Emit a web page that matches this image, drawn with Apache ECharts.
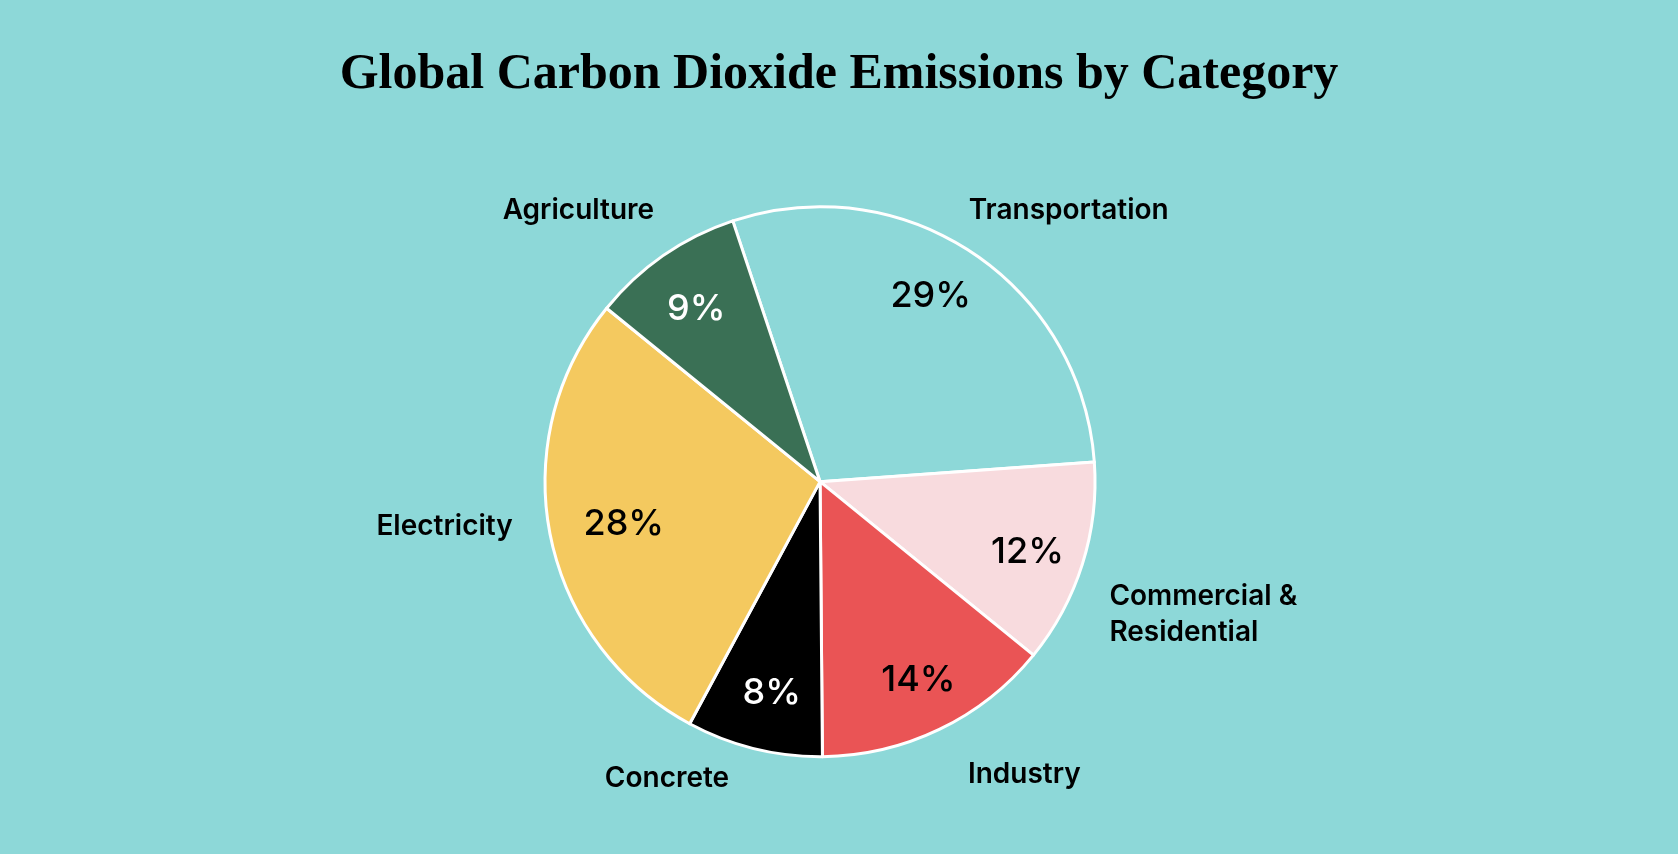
<!DOCTYPE html>
<html>
<head>
<meta charset="utf-8">
<script src="https://cdn.jsdelivr.net/npm/echarts@6/dist/echarts.min.js"></script>
<style>
html,body{margin:0;padding:0;background:#8dd8d8;}
#chart{width:1678px;height:854px;}
</style>
</head>
<body>
<div id="chart"></div>
<script>
const titleText = 'Global Carbon Dioxide Emissions by Category';
const categories = ['Transportation', 'Commercial &\nResidential', 'Industry', 'Concrete', 'Electricity', 'Agriculture'];
const values = [29, 12, 14, 8, 28, 9];
const colors = ['#8dd8d8', '#f8dbde', '#ea5455', '#000000', '#f4c95f', '#3a7055'];
const pctColors = ['#000000', '#000000', '#000000', '#ffffff', '#000000', '#ffffff'];
// label nudges (styling only)
const nameOffsets = [[-20, -26], [3, 44], [15, 27], [-15, 11], [-13, -13], [7, -29]];
const pctOffsets = [[-10, -5], [0, 5], [4, 3], [4, 0], [17, 0], [0, 6]];

const chart = echarts.init(document.getElementById('chart'));
const center = ['48.87%', '56.4%'];
const R = 275;

const mainData = categories.map((c, i) => ({
  name: c, value: values[i],
  itemStyle: { color: colors[i] },
  label: { offset: nameOffsets[i] }
}));
const ringData = categories.map((c, i) => ({
  name: c, value: values[i],
  label: { color: pctColors[i], offset: pctOffsets[i] }
}));

chart.setOption({
  backgroundColor: '#8dd8d8',
  title: {
    text: titleText, left: 'center', top: 45,
    textStyle: { fontFamily: 'Liberation Serif', fontWeight: 'bold', fontSize: 50, color: '#000' }
  },
  series: [
    {
      type: 'pie', center, radius: [0, R], startAngle: 108.5, clockwise: true,
      animation: false, silent: true,
      itemStyle: { borderColor: '#ffffff', borderWidth: 3 },
      labelLayout: { hideOverlap: false },
      label: {
        show: true, position: 'outside', formatter: '{b}',
        fontFamily: 'Inter', fontWeight: 600, fontSize: 28, color: '#000', lineHeight: 36
      },
      labelLine: { show: false, length: 20, length2: 0 },
      data: mainData
    },
    {
      type: 'pie', center, radius: [R * 0.56, R], startAngle: 108.5, clockwise: true,
      animation: false, silent: true,
      itemStyle: { color: 'rgba(0,0,0,0)', borderWidth: 0 },
      label: {
        show: true, position: 'inside', formatter: '{c}%',
        fontFamily: 'Inter', fontWeight: 500, fontSize: 36
      },
      labelLine: { show: false },
      data: ringData
    }
  ]
});
</script>
</body>
</html>
